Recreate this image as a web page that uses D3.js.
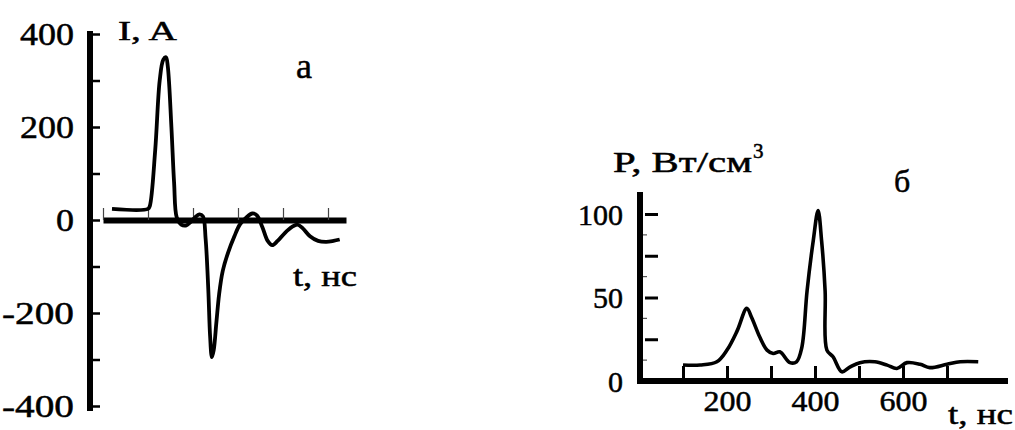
<!DOCTYPE html>
<html>
<head>
<meta charset="utf-8">
<script src="https://cdn.jsdelivr.net/npm/d3@7"></script>
<style>
  html, body { margin: 0; padding: 0; background: #fff; }
  text { font-family: "Liberation Serif", "Times New Roman", serif; fill: #000; stroke: #000; stroke-width: 0.5px; }
</style>
</head>
<body>
<svg id="chart" width="1015" height="430"></svg>
<script>
// panel a: current I (A) vs t (ns)
const currentT = [10, 50, 52, 58, 63, 67, 70, 72, 76, 79, 82, 87, 92, 97, 102, 107, 111, 114, 117, 119, 121, 123, 126, 129, 133, 139, 146, 152, 159, 166, 171, 177, 183, 188, 194, 202, 210, 216, 222, 230, 239, 248, 256, 263];
const currentI = [24, 24, 30, 150, 300, 345, 350, 330, 200, 80, 5, -10, -12, -5, 5, 12, 8, -40, -150, -250, -295, -280, -220, -160, -110, -70, -35, -10, 5, 14, 10, -15, -45, -54, -45, -28, -15, -10, -18, -35, -45, -47, -45, -42];
const currentTicksY = [-400, -300, -200, -100, 0, 100, 200, 300, 400];
const currentTicksX = [0, 50, 100, 150, 200, 250];

// panel б: power density P (W/cm3) vs t (ns)
const powerT = [100, 139, 177, 200, 223, 245, 256, 275, 291, 305, 320, 343, 358, 370, 382, 396, 407, 415, 423, 427, 441, 461, 480, 502, 536, 564, 586, 609, 639, 661, 700, 730, 771];
const powerP = [9.6, 9.6, 11.5, 18.5, 30, 43.5, 38, 26, 18.5, 16.5, 17.5, 11, 11.5, 20, 54, 84, 102, 84, 54, 18.5, 14.5, 5.5, 8.5, 11, 11.5, 9.5, 7.5, 11, 10, 8, 10, 11.5, 11.5];
const powerTicksY = [0, 25, 50, 75, 100];
const powerMinorY = [12.5, 37.5, 62.5, 87.5];
const powerTicksX = [100, 200, 300, 400, 500, 600, 700];
const powerLabelsX = [200, 400, 600];

const svg = d3.select('#chart');

// ---------- panel a ----------
const xL = d3.scaleLinear().domain([0, 270]).range([103, 346]);
const yL = d3.scaleLinear().domain([-400, 400]).range([406, 34]);

const yAxisL = svg.append('g')
  .attr('transform', 'translate(90,0)')
  .call(d3.axisLeft(yL)
    .tickValues(currentTicksY)
    .tickSizeInner(-10)
    .tickSizeOuter(0)
    .tickPadding(16)
    .tickFormat(d => d % 200 === 0 ? String(d) : ''));
yAxisL.select('.domain').attr('stroke-width', 6).attr('d', 'M0,31V411');
yAxisL.selectAll('.tick line').attr('stroke-width', 2.5);
yAxisL.selectAll('.tick text')
  .attr('font-family', '"Liberation Serif", serif')
  .attr('font-size', 32)
  .attr('dy', '0.34em')
  .attr('textLength', d => String(d).length * 18)
  .attr('lengthAdjust', 'spacingAndGlyphs');

const xAxisL = svg.append('g')
  .attr('transform', `translate(0,${yL(0)})`)
  .call(d3.axisBottom(xL)
    .tickValues(currentTicksX)
    .tickSizeInner(-12)
    .tickSizeOuter(0)
    .tickFormat(''));
xAxisL.select('.domain').attr('stroke-width', 6);
xAxisL.selectAll('.tick line').attr('stroke-width', 1.2).attr('stroke', '#444');

const lineL = d3.line()
  .x((d, i) => xL(currentT[i]))
  .y(d => yL(d))
  .curve(d3.curveCatmullRom.alpha(0.5));

svg.append('path')
  .datum(currentI)
  .attr('d', lineL)
  .attr('fill', 'none')
  .attr('stroke', '#000')
  .attr('stroke-width', 3.8)
  .attr('stroke-linejoin', 'round');

svg.append('text').attr('x', 118).attr('y', 40)
  .attr('font-size', 28).attr('textLength', 59).attr('lengthAdjust', 'spacingAndGlyphs')
  .text('I, A');
svg.append('text').attr('x', 296).attr('y', 78)
  .attr('font-size', 36)
  .text('a');
svg.append('text').attr('x', 293).attr('y', 286)
  .attr('font-size', 29).attr('textLength', 64).attr('lengthAdjust', 'spacingAndGlyphs')
  .text('t, нс');

// ---------- panel б ----------
const xR = d3.scaleLinear().domain([100, 700]).range([683, 947]);
const yR = d3.scaleLinear().domain([0, 100]).range([381, 214]);

const yAxisR = svg.append('g')
  .attr('transform', 'translate(640,0)')
  .call(d3.axisLeft(yR)
    .tickValues(powerTicksY)
    .tickSizeInner(-18)
    .tickSizeOuter(0)
    .tickPadding(17)
    .tickFormat(d => d % 50 === 0 ? String(d) : ''));
yAxisR.select('.domain').attr('stroke-width', 6).attr('d', 'M0,192V384');
yAxisR.selectAll('.tick line').attr('stroke-width', 3).attr('x1', 5);
yAxisR.selectAll('.tick text')
  .attr('font-family', '"Liberation Serif", serif')
  .attr('font-size', 30)
  .attr('dy', '0.34em')
  .attr('textLength', d => String(d).length * 15)
  .attr('lengthAdjust', 'spacingAndGlyphs');

svg.append('g').selectAll('line')
  .data(powerMinorY)
  .join('line')
  .attr('x1', 643).attr('x2', 647)
  .attr('y1', d => yR(d)).attr('y2', d => yR(d))
  .attr('stroke', '#555').attr('stroke-width', 1.2);

const xAxisR = svg.append('g')
  .attr('transform', `translate(0,${yR(0)})`)
  .call(d3.axisBottom(xR)
    .tickValues(powerTicksX)
    .tickSizeInner(-15)
    .tickSizeOuter(0)
    .tickPadding(27)
    .tickFormat(d => powerLabelsX.includes(d) ? String(d) : ''));
xAxisR.select('.domain').attr('stroke-width', 6).attr('d', 'M640,0H1008');
xAxisR.selectAll('.tick line').attr('stroke-width', 3);
xAxisR.selectAll('.tick text')
  .attr('font-family', '"Liberation Serif", serif')
  .attr('font-size', 30)
  .attr('dy', '0.1em')
  .attr('textLength', d => powerLabelsX.includes(d) ? 48 : 0)
  .attr('lengthAdjust', 'spacingAndGlyphs');

const lineR = d3.line()
  .x((d, i) => xR(powerT[i]))
  .y(d => yR(d))
  .curve(d3.curveCatmullRom.alpha(0.5));

svg.append('path')
  .datum(powerP)
  .attr('d', lineR)
  .attr('fill', 'none')
  .attr('stroke', '#000')
  .attr('stroke-width', 3.6)
  .attr('stroke-linejoin', 'round');

svg.append('text').attr('x', 613).attr('y', 172)
  .attr('font-size', 29).attr('textLength', 139).attr('lengthAdjust', 'spacingAndGlyphs')
  .text('P, Вт/см');
svg.append('text').attr('x', 753).attr('y', 158)
  .attr('font-size', 21)
  .text('3');
svg.append('text').attr('x', 894).attr('y', 192)
  .attr('font-size', 32)
  .text('б');
svg.append('text').attr('x', 948).attr('y', 424)
  .attr('font-size', 29).attr('textLength', 65).attr('lengthAdjust', 'spacingAndGlyphs')
  .text('t, нс');
</script>
</body>
</html>
